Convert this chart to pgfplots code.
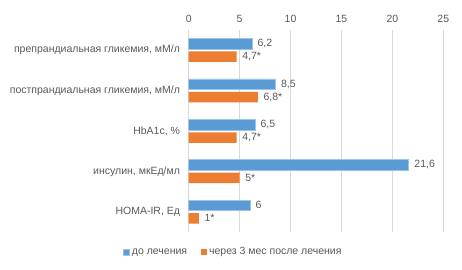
\documentclass[border=0pt]{standalone}
\usepackage{pgfplots}
\pgfplotsset{compat=1.18}
\usepackage{pgfplotstable}
\usepackage{fontspec}
\setmainfont{Liberation Sans}
\definecolor{cblue}{HTML}{5B9BD5}
\definecolor{corange}{HTML}{ED7D31}
\definecolor{ctext}{HTML}{595959}
\definecolor{cgrid}{HTML}{D9D9D9}
\pgfplotstableread{
y x lab
0 6.2 6,2
1 8.5 8,5
2 6.5 6,5
3 21.6 21,6
4 6 6
}\before
\pgfplotstableread{
y x lab
0 4.7 4,7*
1 6.8 6,8*
2 4.7 4,7*
3 5 5*
4 1 1*
}\after
\begin{document}
\fontsize{10.5bp}{12bp}\selectfont
\begin{tikzpicture}
\path[use as bounding box] (0,0) rectangle (462bp,270bp);
\begin{axis}[
  at={(188.7bp,38bp)}, anchor=south west,
  scale only axis, width=254.6bp, height=202bp,
  xbar, bar width=10.5bp,
  xmin=0, xmax=25, xtick={0,5,10,15,20,25},
  ymin=-0.5, ymax=4.5, y dir=reverse,
  ytick={0,1,2,3,4},
  yticklabels={{препрандиальная гликемия, мМ/л}, {постпрандиальная гликемия, мМ/л}, {HbA1c, \%}, {инсулин, мкЕд/мл}, {HOMA-IR,  Ед}},
  xticklabel pos=top,
  axis line style={draw=none},
  major tick length=0pt,
  xmajorgrids, grid style={cgrid, line width=0.75bp},
  tick label style={ctext, font=\fontsize{10.5bp}{12bp}\selectfont},
  /pgf/number format/assume math mode=true,
  yticklabel style={xshift=-5bp},
  xticklabel style={yshift=4bp},
  nodes near coords={\pgfplotspointmeta},
  point meta=explicit symbolic,
  every node near coord/.append style={ctext, font=\fontsize{10.5bp}{12bp}\selectfont, anchor=west, xshift=2bp},
  legend style={at={(0.176,-0.099)}, anchor=center, draw=none, legend columns=2,
    font=\fontsize{10.5bp}{12bp}\selectfont, text=ctext,
    /tikz/every even column/.append style={column sep=12bp}},
  legend image code/.code={\fill[#1] (0bp,-3bp) rectangle (6bp,3bp);},
]
\addplot[fill=cblue, draw=cblue!60!white, line width=0.5bp, bar shift=6.5bp] table[x=x, y=y, meta=lab] {\before};
\addplot[fill=corange, draw=none, bar shift=-6.5bp] table[x=x, y=y, meta=lab] {\after};
\legend{до лечения, через 3 мес после лечения}
\end{axis}
\end{tikzpicture}
\end{document}
